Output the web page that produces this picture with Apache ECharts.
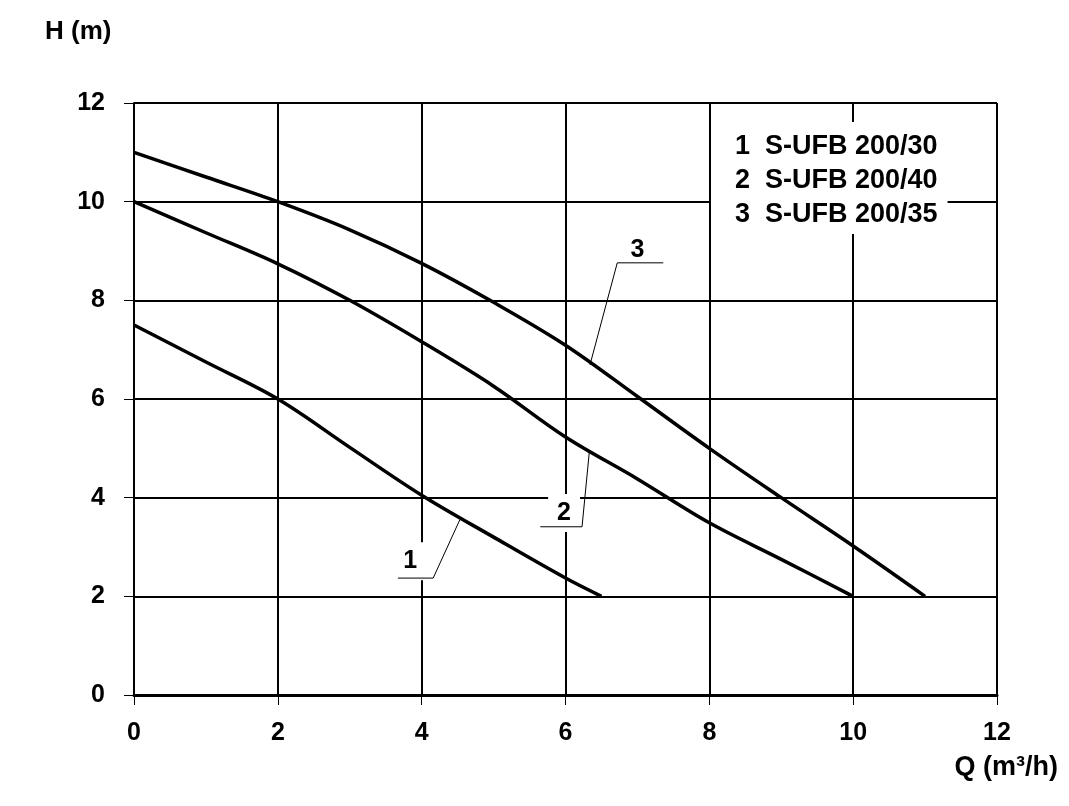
<!DOCTYPE html>
<html>
<head>
<meta charset="utf-8">
<script src="https://cdn.jsdelivr.net/npm/echarts@6/dist/echarts.min.js"></script>
<style>
html,body{margin:0;padding:0;background:#fff;}
#chart{width:1069px;height:806px;}
</style>
</head>
<body>
<div id="chart"></div>
<script>
// ---- data ----
var seriesNames = ['S-UFB 200/30', 'S-UFB 200/40', 'S-UFB 200/35'];
var curveIds = ['1', '2', '3'];
var curve1 = [[0, 7.5], [1, 6.75], [2, 6.0], [3, 5.02], [4, 4.05], [5, 3.2], [6, 2.37], [6.5, 2.0]];
var curve2 = [[0, 10.0], [1, 9.37], [2, 8.74], [3, 8.0], [4, 7.16], [5, 6.26], [6, 5.23], [7, 4.38], [8, 3.49], [9, 2.75], [10, 2.0]];
var curve3 = [[0, 11.0], [1, 10.5], [2, 10.0], [3, 9.43], [4, 8.75], [5, 7.96], [6, 7.09], [7, 6.05], [8, 5.0], [9, 4.0], [10, 3.02], [11, 2.0]];
var xTicks = [0, 2, 4, 6, 8, 10, 12];
var yTicks = [0, 2, 4, 6, 8, 10, 12];
// annotation labels and leader lines (data coordinates)
var labelPoints = [[3.84, 2.71], [5.98, 3.69], [7.0, 9.02]];
var leader1 = [[3.67, 2.37], [4.16, 2.37], [4.53, 3.55]];
var leader2 = [[5.65, 3.41], [6.23, 3.41], [6.33, 4.91]];
var leader3 = [[7.36, 8.76], [6.72, 8.76], [6.34, 6.69]];

var curves = [curve1, curve2, curve3];
var leaders = [leader1, leader2, leader3];

var FONT = '"Liberation Sans", Arial, sans-serif';

var series = [];
curves.forEach(function (c, i) {
  series.push({
    name: seriesNames[i],
    type: 'line',
    data: c,
    smooth: 0.35,
    symbol: 'none',
    lineStyle: { color: '#000', width: 3.5 },
    itemStyle: { color: '#000' },
    z: 3
  });
});
series.push({
  name: 'labels',
  type: 'scatter',
  data: labelPoints,
  symbolSize: 0,
  silent: true,
  z: 5,
  itemStyle: { color: '#000', opacity: 1 },
  label: {
    show: true,
    position: 'inside',
    formatter: function (p) { return curveIds[p.dataIndex]; },
    color: '#000',
    opacity: 1,
    textBorderWidth: 0,
    fontFamily: FONT,
    fontWeight: 'bold',
    fontSize: 25,
    backgroundColor: '#fff',
    padding: [12, 9, 1, 9]
  }
});
leaders.forEach(function (l, i) {
  series.push({
    name: 'leader' + (i + 1),
    type: 'line',
    data: l,
    symbol: 'none',
    silent: true,
    lineStyle: { color: '#000', width: 1 },
    z: 6
  });
});

var chart = echarts.init(document.getElementById('chart'), null, { renderer: 'canvas' });
chart.setOption({
  animation: false,
  backgroundColor: '#fff',
  grid: { left: 134, right: 72, top: 103, bottom: 111, containLabel: false },
  xAxis: {
    type: 'value',
    min: xTicks[0],
    max: xTicks[xTicks.length - 1],
    interval: xTicks[1] - xTicks[0],
    axisLine: { show: true, lineStyle: { color: '#000', width: 3 } },
    axisTick: { show: true, length: 10, lineStyle: { color: '#000', width: 1 } },
    axisLabel: { color: '#000', fontFamily: FONT, fontWeight: 'bold', fontSize: 25, margin: 26 },
    splitLine: { show: true, lineStyle: { color: '#000', width: 2 } }
  },
  yAxis: {
    type: 'value',
    min: yTicks[0],
    max: yTicks[yTicks.length - 1],
    interval: yTicks[1] - yTicks[0],
    axisLine: { show: true, lineStyle: { color: '#000', width: 2 } },
    axisTick: { show: true, length: 10, lineStyle: { color: '#000', width: 1 } },
    axisLabel: { color: '#000', fontFamily: FONT, fontWeight: 'bold', fontSize: 25, margin: 29 },
    splitLine: { show: true, lineStyle: { color: '#000', width: 2 } }
  },
  legend: {
    show: true,
    data: seriesNames,
    orient: 'vertical',
    left: 711,
    top: 122,
    backgroundColor: '#fff',
    padding: [11, 10, 5, 19],
    itemGap: 6,
    itemWidth: 0,
    itemHeight: 0,
    icon: 'rect',
    itemStyle: { opacity: 0 },
    lineStyle: { opacity: 0 },
    selectedMode: false,
    formatter: function (name) {
      return curveIds[seriesNames.indexOf(name)] + '  ' + name;
    },
    textStyle: { color: '#000', fontFamily: FONT, fontWeight: 'bold', fontSize: 27, lineHeight: 28 }
  },
  graphic: [
    {
      type: 'text', left: 45, top: 19,
      style: { text: 'H (m)', fill: '#000', font: 'bold 26px ' + FONT }
    },
    {
      type: 'text', right: 11, top: 754,
      style: { text: 'Q (m\u00b3/h)', fill: '#000', font: 'bold 27px ' + FONT }
    }
  ],
  series: series
});
</script>
</body>
</html>
